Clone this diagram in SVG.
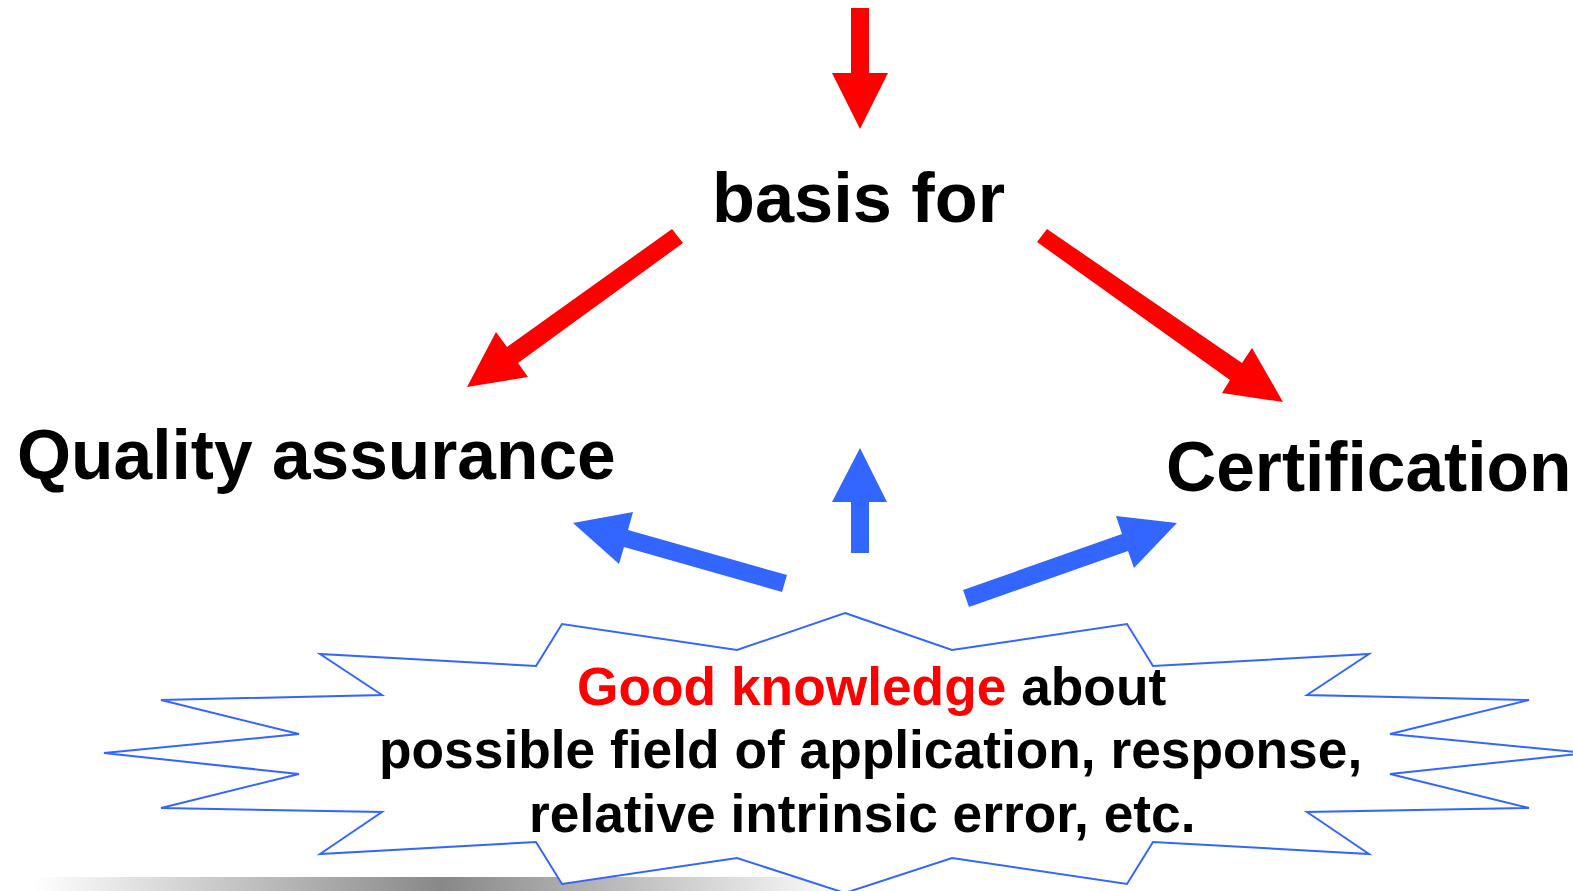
<svg xmlns="http://www.w3.org/2000/svg" width="1573" height="891" viewBox="0 0 1573 891">
  <style>
    .lbl { font-family: "Liberation Sans", Arial, sans-serif; font-weight: bold; fill: #000000; }
    .big { font-size: 69.5px; }
    .mid { font-size: 53.3px; }
    .red { fill: #FF0000; }
    .ra { fill: #FF0000; stroke: none; }
    .ba { fill: #3366FF; stroke: none; }
    .burst { fill: #FFFFFF; stroke: #3366FF; stroke-width: 2; stroke-linejoin: miter; }
  </style>
  <defs>
    <linearGradient id="shadow" x1="0" y1="0" x2="1" y2="0">
      <stop offset="0" stop-color="#FFFFFF"/>
      <stop offset="0.5" stop-color="#888888"/>
      <stop offset="1" stop-color="#FFFFFF"/>
    </linearGradient>
  </defs>
  <rect width="1573" height="891" fill="#FFFFFF"/>
  <rect id="shadow-bar" x="34" y="877" width="816" height="14" fill="url(#shadow)"/>

  <g id="basis-for">
    <text class="lbl big" x="712" y="222" style="font-size:70.3px">basis for</text>
  </g>
  <g id="quality-assurance">
    <text class="lbl big" x="17" y="479">Quality assurance</text>
  </g>
  <g id="certification">
    <text class="lbl big" x="1166" y="491">Certification</text>
  </g>
  <g id="knowledge">
    <polygon class="burst" points="845,613 952,650 1127,624 1153,666 1369,654 1307,695 1529,700 1390,734 1586,753 1390,774 1529,808 1307,812 1369,854 1153,842 1127,884 952,858 845,893 737,858 562,884 536,842 320,854 382,812 161,808 299,774 104,753 299,734 161,700 382,695 320,654 536,666 562,624 737,650"/>
    <text class="lbl mid" x="577" y="705"><tspan class="red">Good knowledge</tspan> about</text>
    <text class="lbl mid" x="379" y="768">possible field of application, response,</text>
    <text class="lbl mid" x="529" y="832">relative intrinsic error, etc.</text>
  </g>

  <g id="connectors">
    <polygon class="ra" points="851,8 869,8 869,73 888,73 860,129 832,73 851,73"/>
    <polygon class="ra" points="672,229 683,243 518,363 528,377 467,387 496,332 507,347"/>
    <polygon class="ra" points="1047,229 1242,363 1252,348 1283,402 1222,393 1230,380 1037,242"/>
    <polygon class="ba" points="851,553 851,502 832,502 860,448 887,502 869,502 869,553"/>
    <polygon class="ba" points="787,575 628,530 633,512 573,523 619,564 624,547 782,592"/>
    <polygon class="ba" points="963,590 1122,534 1116,516 1177,523 1134,568 1128,551 969,607"/>
  </g>
</svg>
